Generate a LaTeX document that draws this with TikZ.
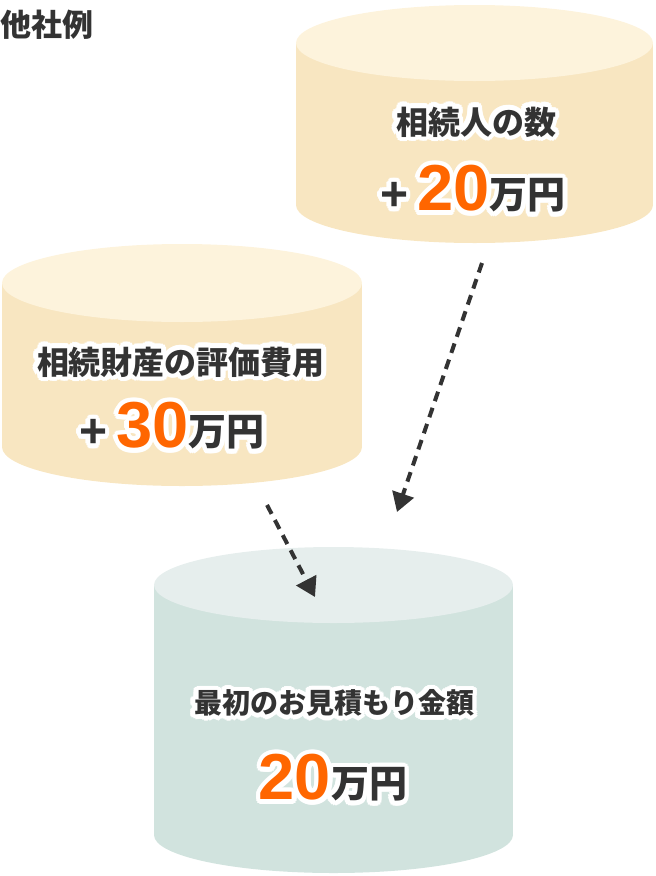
\documentclass[tikz,border=0pt]{standalone}
\usepackage{fontspec}
\newfontfamily\jp{Noto Sans CJK JP}
\newfontfamily\num{Liberation Sans}
\usetikzlibrary{arrows.meta}
\definecolor{ink}{HTML}{333333}
\definecolor{hot}{HTML}{FF6600}
\definecolor{ctop}{HTML}{FDF3DC}
\definecolor{cside}{HTML}{F8E6C1}
\definecolor{gtop}{HTML}{E6EEED}
\definecolor{gside}{HTML}{D1E3DE}
\def\hlc{hot}
\newcommand\hl[1]{{\color{\hlc}#1}}
\newcommand\halo[1]{\leavevmode{\color{white}\def\hlc{white}\foreach \a in {0,22.5,...,337.5}{\pgfmathsetmacro\dx{4.5*cos(\a)}\pgfmathsetmacro\dy{4.5*sin(\a)}\makebox[0pt][l]{\hspace*{\dx pt}\raisebox{\dy pt}{#1}}}}#1}
\newcommand\cyl[7]{%
  \fill[#7] (#1-#2,#3) rectangle (#1+#2,#4);
  \fill[#7] (#1,#4) ellipse [x radius=#2, y radius=#5];
  \fill[#6] (#1,#3) ellipse [x radius=#2, y radius=#5];}
\tikzset{
  lbl/.style={inner sep=0pt, text=ink, font=\jp\bfseries\fontsize{32}{36}\selectfont},
  flow/.style={draw=ink, line width=4pt, dash pattern=on 10pt off 7pt, -{Triangle[length=19pt,width=22pt]}}
}
\newcommand\amount[2]{{\num\bfseries\fontsize{65}{65}\selectfont\hl{#1}}{\fontsize{38}{38}\selectfont\raisebox{2pt}{#2}}}
\newcommand\plussign{{\num\bfseries\fontsize{48}{48}\selectfont +}\hspace{9pt}}
\begin{document}
\begin{tikzpicture}[x=1pt,y=-1pt]
\useasboundingbox (0,0) rectangle (656,876);
\cyl{474.5}{178.5}{43}{205}{38}{ctop}{cside}
\cyl{182}{180}{283}{447}{39}{ctop}{cside}
\cyl{333.5}{179.5}{585}{835}{38}{gtop}{gside}
\node[lbl, anchor=west, font=\jp\bfseries\fontsize{31}{34}\selectfont] (t0) at (0,25) {他社例};
\node[lbl] (t1a) at (476,122) {\halo{相続人の数}};
\node[lbl] (t1b) at (473,189) {\halo{\plussign\amount{20}{万円}}};
\node[lbl] (t2a) at (181,362) {\halo{相続財産の評価費用}};
\node[lbl] (t2b) at (172,426) {\halo{\plussign\amount{30}{万円}}};
\node[lbl, font=\jp\bfseries\fontsize{28}{32}\selectfont] (t3a) at (334,703) {\halo{最初のお見積もり金額}};
\node[lbl] (t3b) at (333,778) {\halo{\amount{20}{万円}}};
\coordinate (a1s) at (482,263);
\coordinate (a1e) at (397,512);
\coordinate (a2s) at (267,505);
\coordinate (a2e) at (315,597);
\draw[flow] (a1s) -- (a1e);
\draw[flow] (a2s) -- (a2e);
\end{tikzpicture}
\end{document}
